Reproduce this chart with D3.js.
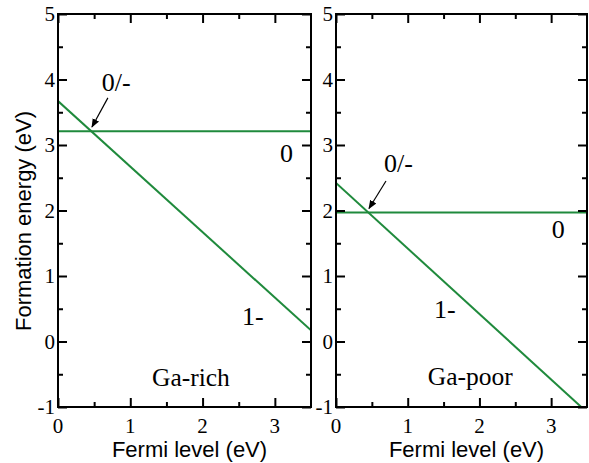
<!DOCTYPE html>
<html><head><meta charset="utf-8">
<script src="https://cdn.jsdelivr.net/npm/d3@7"></script>
<style>body{margin:0;background:#fff}svg{display:block}</style>
</head><body>
<script>
const fermi = [0, 3.5];
const xTicks = [0, 1, 2, 3];
const yTicks = [-1, 0, 1, 2, 3, 4, 5];
const richNeutral = [3.21, 3.21];
const richMinus = [3.67, 0.17];
const poorNeutral = [1.97, 1.97];
const poorMinus = [2.42, -1.08];
const panels = [
  {name: "Ga-rich", neutral: richNeutral, minus: richMinus, x0: 58, x1: 311,
   labels: [{t: "0/-", x: 0.605, y: 3.83}, {t: "0", x: 3.07, y: 2.74}, {t: "1-", x: 2.545, y: 0.255}, {t: "Ga-rich", x: 1.30, y: -0.675, big: true}],
   arrow: [[0.69, 3.72], [0.47, 3.275]]},
  {name: "Ga-poor", neutral: poorNeutral, minus: poorMinus, x0: 336, x1: 587,
   labels: [{t: "0/-", x: 0.67, y: 2.59}, {t: "0", x: 3.01, y: 1.58}, {t: "1-", x: 1.367, y: 0.36}, {t: "Ga-poor", x: 1.28, y: -0.66, big: true}],
   arrow: [[0.697, 2.45], [0.46, 2.03]]}
];
const W = 589, H = 463, plotTop = 14, plotBottom = 407;
const green = "#1f8a3c";
const serif = "'Liberation Serif','Times New Roman',serif";
const sans = "'Liberation Sans',Arial,sans-serif";
const svg = d3.select("body").append("svg").attr("width", W).attr("height", H);
const defs = svg.append("defs");
defs.append("marker").attr("id", "ah").attr("viewBox", "0 0 10 10").attr("refX", 9).attr("refY", 5)
  .attr("markerWidth", 9).attr("markerHeight", 9).attr("markerUnits", "userSpaceOnUse").attr("orient", "auto")
  .append("path").attr("d", "M0,1 L10,5 L0,9 Z").attr("fill", "#000");

const y = d3.scaleLinear().domain([-1, 5]).range([plotBottom, plotTop]);

panels.forEach((p, i) => {
  const x = d3.scaleLinear().domain([0, 3.5]).range([p.x0, p.x1]);
  const g = svg.append("g");
  const cid = "clip" + i;
  defs.append("clipPath").attr("id", cid).append("rect")
    .attr("x", p.x0).attr("y", plotTop).attr("width", p.x1 - p.x0).attr("height", plotBottom - plotTop);
  const line = d3.line().x((d, j) => x(fermi[j])).y(d => y(d));
  const lines = g.append("g").attr("clip-path", `url(#${cid})`);
  [p.neutral, p.minus].forEach(s => lines.append("path").attr("d", line(s))
    .attr("fill", "none").attr("stroke", green).attr("stroke-width", 2));

  const major = 9, minor = 5;
  const xMinor = d3.range(0.5, 3.5, 1);
  const yMinor = d3.range(-0.5, 5, 1);
  const axB = d3.axisBottom(x).tickValues(xTicks).tickSize(-major).tickFormat("");
  const axT = d3.axisTop(x).tickValues(xTicks).tickSize(-major).tickFormat("");
  const axL = d3.axisLeft(y).tickValues(yTicks).tickSize(-major).tickFormat("");
  const axR = d3.axisRight(y).tickValues(yTicks).tickSize(-major).tickFormat("");
  const mB = d3.axisBottom(x).tickValues(xMinor).tickSize(-minor).tickFormat("");
  const mT = d3.axisTop(x).tickValues(xMinor).tickSize(-minor).tickFormat("");
  const mL = d3.axisLeft(y).tickValues(yMinor).tickSize(-minor).tickFormat("");
  const mR = d3.axisRight(y).tickValues(yMinor).tickSize(-minor).tickFormat("");
  const ax = g.append("g");
  [[axB, `translate(0,${plotBottom})`], [mB, `translate(0,${plotBottom})`],
   [axT, `translate(0,${plotTop})`], [mT, `translate(0,${plotTop})`],
   [axL, `translate(${p.x0},0)`], [mL, `translate(${p.x0},0)`],
   [axR, `translate(${p.x1},0)`], [mR, `translate(${p.x1},0)`]].forEach(([a, t]) => {
    const gg = ax.append("g").attr("transform", t).call(a);
    gg.selectAll("path").remove();
    gg.selectAll("line").attr("stroke", "#000").attr("stroke-width", 2);
  });
  ax.append("rect").attr("x", p.x0).attr("y", plotTop).attr("width", p.x1 - p.x0).attr("height", plotBottom - plotTop)
    .attr("fill", "none").attr("stroke", "#000").attr("stroke-width", 2);

  g.selectAll(".xt").data(xTicks).enter().append("text")
    .attr("x", d => x(d)).attr("y", 433).attr("text-anchor", "middle")
    .attr("font-family", serif).attr("font-size", 21).text(d => d);
  g.selectAll(".yt").data(yTicks).enter().append("text")
    .attr("x", p.x0 - 3).attr("y", d => y(d) + 7).attr("text-anchor", "end")
    .attr("font-family", serif).attr("font-size", 21).text(d => d);

  g.append("text").attr("x", (p.x0 + p.x1) / 2 + 5).attr("y", 457).attr("text-anchor", "middle")
    .attr("font-family", sans).attr("font-size", 22).text("Fermi level (eV)");

  p.labels.forEach(l => g.append("text").attr("x", x(l.x)).attr("y", y(l.y))
    .attr("font-family", serif).attr("font-size", l.big ? 25.5 : 26).text(l.t));
  g.append("line").attr("x1", x(p.arrow[0][0])).attr("y1", y(p.arrow[0][1]))
    .attr("x2", x(p.arrow[1][0])).attr("y2", y(p.arrow[1][1]))
    .attr("stroke", "#000").attr("stroke-width", 1.2).attr("marker-end", "url(#ah)");
});

svg.append("text").attr("transform", `translate(31,221) rotate(-90)`).attr("text-anchor", "middle")
  .attr("font-family", sans).attr("font-size", 22).text("Formation energy (eV)");
</script>
</body></html>
